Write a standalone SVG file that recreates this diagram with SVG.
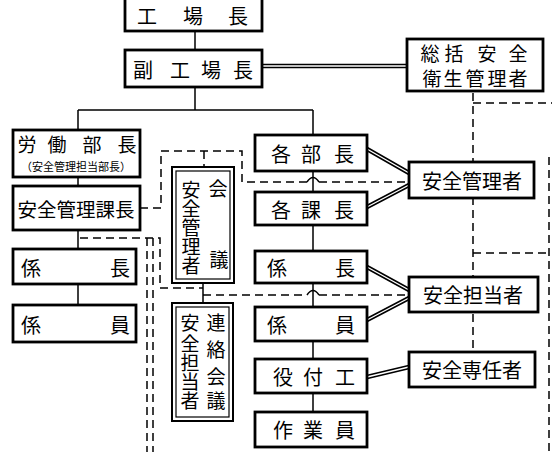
<svg xmlns="http://www.w3.org/2000/svg" width="552" height="452" viewBox="0 0 552 452">
<style>
.box{fill:#fff;stroke:#000;stroke-width:2.8}
.box2{fill:none;stroke:#000;stroke-width:1.2}
.t{font-family:"Noto Sans CJK JP","Noto Sans CJK SC",sans-serif;font-size:20px;text-anchor:middle;dominant-baseline:central;fill:#000}
.s{font-size:11px}
.ln{stroke:#000;stroke-width:1.5;fill:none}
.dash{stroke:#000;stroke-width:1.5;fill:none;stroke-dasharray:8 5}
.dblo{stroke:#000;stroke-width:4.5;fill:none}
.dbli{stroke:#fff;stroke-width:1.4;fill:none}
</style>
<rect width="552" height="452" fill="#fff"/>
<g id="connectors">
  <path class="ln" d="M195 31V50M195 87V110M78 110H313M78 110V130M78 177V186M78 230V249M78 284V305M313 110V412M203 283V303"/>
  <path class="dblo" d="M262 66H407M367 149L409 173M367 207L409 185M367 267L409 290M367 320L409 298M367 377L409 367"/>
  <path class="dbli" d="M262 66H407M367 149L409 173M367 207L409 185M367 267L409 290M367 320L409 298M367 377L409 367"/>
  <path class="dash" d="M140 208H161V151H242V182H307M319 182H409M204 151V167"/>
  <path class="ln" d="M307 182Q313 173 319 182"/>
  <path class="dash" d="M80 238H160V288H203M203 295H307M319 295H409"/>
  <path class="ln" d="M307 295Q313 286 319 295"/>
  <path class="dash" d="M147 238V452M153 238V452"/>
  <path class="dash" d="M473 93V352M473 103H552M473 253H549M549 157V452"/>
</g>
<g id="kojocho"><rect class="box" x="125" y="-3" width="137" height="34"/><text class="t" x="147 193 238" y="15">工場長</text></g>
<g id="fukukojocho"><rect class="box" x="125" y="50" width="137" height="37"/><text class="t" x="143 180 211 243" y="69">副工場長</text></g>
<g id="sokatsu"><rect class="box" x="407" y="39" width="136" height="52"/><text class="t" x="430 454 487 518" y="52" style="font-size:19px">総括安全</text><text class="t" x="432 453 475 497 518" y="77" style="font-size:19px">衛生管理者</text></g>
<g id="rodobucho"><rect class="box" x="13" y="130" width="127" height="47"/><text class="t" x="27 57 92 127" y="143" style="font-size:19px">労働部長</text><text class="t s" x="76" y="166">（安全管理担当部長）</text></g>
<g id="anzenkanrikacho"><rect class="box" x="13" y="186" width="127" height="44"/><text class="t" x="76" y="208" style="font-size:19.5px">安全管理課長</text></g>
<g id="kakaricho-l"><rect class="box" x="13" y="249" width="123" height="35"/><text class="t" x="31 120" y="267">係長</text></g>
<g id="kakariin-l"><rect class="box" x="13" y="305" width="123" height="37"/><text class="t" x="31 120" y="324">係員</text></g>
<g id="kanrisha-kaigi"><rect class="box" x="172" y="167" width="62" height="116" style="stroke-width:2"/><rect class="box2" x="176" y="171" width="54" height="108"/><text class="t" x="191 191 191 191 191" y="188 207 226 245 264" style="font-size:19px">安全管理者</text><text class="t" x="218 219" y="187 258" style="font-size:19px">会議</text></g>
<g id="tantosha-renraku"><rect class="box" x="172" y="303" width="61" height="118" style="stroke-width:2"/><rect class="box2" x="176" y="307" width="53" height="110"/><text class="t" x="190 190 190 190 190" y="321 342 361 380 399" style="font-size:19px">安全担当者</text><text class="t" x="216 216 216 216" y="321 348 375 399" style="font-size:19px">連絡会議</text></g>
<g id="kakubucho"><rect class="box" x="255" y="135" width="112" height="36"/><text class="t" x="281 311 344" y="153">各部長</text></g>
<g id="kakukacho"><rect class="box" x="255" y="192" width="112" height="33"/><text class="t" x="281 311 344" y="209">各課長</text></g>
<g id="kakaricho-c"><rect class="box" x="255" y="251" width="112" height="32"/><text class="t" x="277 345" y="267">係長</text></g>
<g id="kakariin-c"><rect class="box" x="255" y="307" width="112" height="34"/><text class="t" x="277 345" y="324">係員</text></g>
<g id="yakutsukiko"><rect class="box" x="255" y="359" width="112" height="34"/><text class="t" x="283 313 345" y="376">役付工</text></g>
<g id="sagyoin"><rect class="box" x="255" y="412" width="112" height="35"/><text class="t" x="283 313 345" y="429">作業員</text></g>
<g id="anzenkanrisha"><rect class="box" x="409" y="162" width="125" height="36"/><text class="t" x="472" y="180">安全管理者</text></g>
<g id="anzentantosha"><rect class="box" x="409" y="277" width="129" height="35"/><text class="t" x="473" y="294">安全担当者</text></g>
<g id="anzensenninsha"><rect class="box" x="409" y="352" width="126" height="35"/><text class="t" x="472" y="369">安全専任者</text></g>
</svg>
